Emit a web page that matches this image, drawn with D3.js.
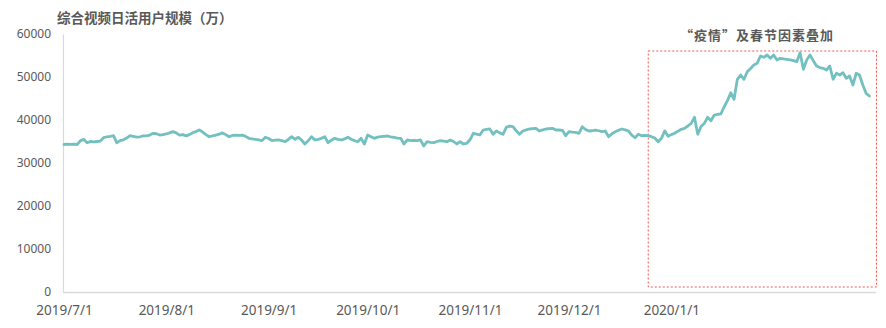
<!DOCTYPE html>
<html>
<head>
<meta charset="utf-8">
<script src="https://cdn.jsdelivr.net/npm/d3@7"></script>
<style>
  html, body { margin: 0; padding: 0; background: #fff; }
  svg { display: block; }
</style>
</head>
<body>
<svg id="chart" width="886" height="328"></svg>
<script>
// ---- data ----
const title = "综合视频日活用户规模（万）";
const annotation = "“疫情”及春节因素叠加";
const startDate = "2019-07-01";      // first daily observation
const endDomain = "2020-03-03";      // end of the date axis
const dailyUsers = [
  34300,34400,34350,34400,34300,35200,35500,34700,35000,34900,
  35000,35100,35900,36100,36200,36350,34700,35200,35400,35800,
  36350,36200,36000,36100,36300,36300,36500,36900,36800,36500,
  36600,36750,37000,37300,37000,36500,36600,36300,36600,37050,
  37300,37700,37200,36600,36100,36300,36500,36700,37000,36600,
  36100,36400,36500,36400,36500,36200,35750,35600,35500,35350,
  35200,35980,35700,35190,35300,35350,35200,34950,35500,36120,
  35510,35980,35300,34420,35200,36120,35350,35500,35740,36120,
  34720,35300,35740,35500,35350,35600,35980,35510,35200,34950,
  35740,34420,36510,36100,35740,36000,36120,36200,36280,36100,
  35980,35800,35740,34420,35350,35200,35250,35190,35350,33950,
  34950,34800,34720,35000,35190,35100,34950,35350,35000,34420,
  34950,34420,34580,35400,36910,36700,36510,37670,37800,37910,
  36670,37440,37000,36670,38300,38600,38440,37500,36670,37440,
  37700,37910,38000,38070,37440,37700,37910,38000,38070,37670,
  37670,37600,36350,37280,37200,37140,36910,38440,37800,37440,
  37500,37670,37500,37280,37440,36120,36800,37280,37600,37910,
  37700,37440,36500,35880,36670,36350,36400,36350,36120,35800,
  34950,35740,37480,36200,36600,36910,37400,37840,38070,38600,
  39200,40630,36670,38500,39230,40630,39840,41160,41300,41400,
  43090,44500,46350,44810,49470,50470,49470,51230,52000,52800,
  53190,54880,54580,55120,54350,55120,53950,54350,54200,54120,
  54000,53790,53560,55650,51790,53950,55120,53800,52560,52200,
  52020,51630,52560,49470,50860,50470,51000,49700,50230,48140,
  50860,50470,48140,46210,45580
];
const xTickDates = ["2019-07-01","2019-08-01","2019-09-01","2019-10-01","2019-11-01","2019-12-01","2020-01-01"];
const xTickLabels = ["2019/7/1","2019/8/1","2019/9/1","2019/10/1","2019/11/1","2019/12/1","2020/1/1"];
const yTicks = [0,10000,20000,30000,40000,50000,60000];
const highlightStart = "2019-12-25";   // dashed box left edge (date)

// ---- drawing ----
const svg = d3.select("#chart");
const parse = d3.utcParse("%Y-%m-%d");
const start = parse(startDate);
const series = dailyUsers.map((v, i) => ({ date: d3.utcDay.offset(start, i), value: v }));

const x = d3.scaleUtc().domain([start, parse(endDomain)]).range([64, 876]);
const y = d3.scaleLinear().domain([0, 60000]).range([292, 34]);

const textColor = "#595959";
const font = "'Noto Sans', 'Noto Sans CJK SC', sans-serif";

// title
svg.append("text")
  .attr("x", 57).attr("y", 23)
  .attr("font-family", "'Noto Sans CJK SC', sans-serif")
  .attr("font-weight", "bold")
  .attr("font-size", "13.5px")
  .attr("fill", textColor)
  .text(title);

// y axis
const yAxis = d3.axisLeft(y).tickValues(yTicks).tickSize(0).tickPadding(12).tickFormat(d3.format("d"));
const gy = svg.append("g").attr("transform", "translate(63,0)").call(yAxis);
gy.select(".domain").attr("stroke", "#d9d9d9").attr("stroke-width", 1.2);
gy.selectAll("text").attr("font-family", font).attr("font-size", "12px").attr("fill", textColor);

// x axis
const xAxis = d3.axisBottom(x)
  .tickValues(xTickDates.map(parse))
  .tickSize(0).tickPadding(13)
  .tickFormat((d, i) => xTickLabels[i]);
const gx = svg.append("g").attr("transform", "translate(0,292)").call(xAxis);
gx.select(".domain").attr("stroke", "#d9d9d9").attr("stroke-width", 1.5).attr("d", "M63,0.5H876");
gx.selectAll("text").attr("font-family", font).attr("font-size", "13.5px").attr("fill", textColor);

// highlight dashed box
const boxLeft = x(parse(highlightStart));
svg.append("rect")
  .attr("x", boxLeft).attr("y", y(60000) + 17)
  .attr("width", 876.5 - boxLeft).attr("height", y(0) - 5 - (y(60000) + 17))
  .attr("fill", "none")
  .attr("stroke", "#f4564e")
  .attr("stroke-width", 1)
  .attr("stroke-dasharray", "2,2");

// annotation
svg.append("text")
  .attr("x", 757).attr("y", 40)
  .attr("text-anchor", "middle")
  .attr("font-family", "'Noto Sans CJK SC', sans-serif")
  .attr("font-weight", "bold")
  .attr("font-size", "13px")
  .attr("letter-spacing", "1px")
  .attr("fill", textColor)
  .text(annotation);

// line
const line = d3.line().x(d => x(d.date)).y(d => y(d.value)).curve(d3.curveLinear);
svg.append("path")
  .datum(series)
  .attr("fill", "none")
  .attr("stroke", "#72c0bf")
  .attr("stroke-width", 2.8)
  .attr("stroke-linejoin", "round")
  .attr("stroke-linecap", "round")
  .attr("d", line);
</script>
</body>
</html>
